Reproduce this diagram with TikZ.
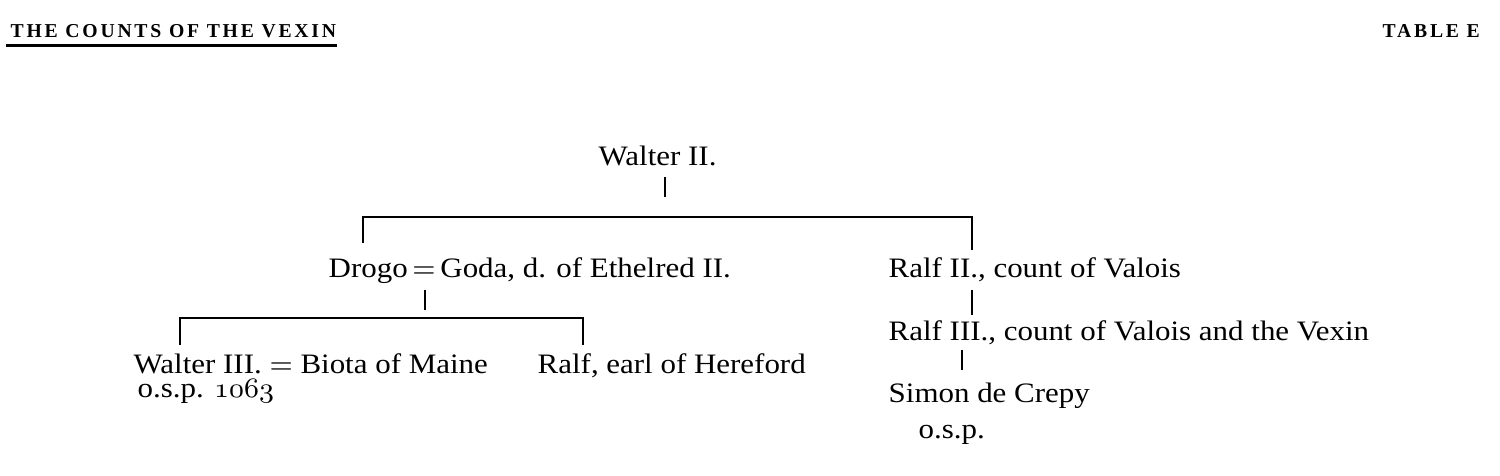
\documentclass[tikz,border=0pt]{standalone}
\usepackage{fontspec}
\setmainfont[FakeStretch=1.1]{Liberation Serif}
\newfontfamily\headfont[LetterSpace=14]{Liberation Serif}
\usepackage{tikz}
\usetikzlibrary{positioning}

\begin{document}
\begin{tikzpicture}[x=0.01cm,y=-0.01cm,
    font=\fontsize{8}{9}\selectfont,
    person/.style={anchor=base west,inner sep=0pt},
    heading/.style={anchor=base west,inner sep=0pt,font=\fontsize{5.6}{6}\headfont\bfseries},
    line/.style={line width=0.55pt}]

\useasboundingbox (0,0) rectangle (1500,475);

% Heading
\node[heading] (title) at (10,37) {THE COUNTS OF THE VEXIN};
\node[heading] (table) at (1382,37) {TABLE E};
\draw[line width=0.9pt] ([yshift=-2.3pt,xshift=-1pt]title.base west) -- ([yshift=-2.3pt]title.base east);

% First generation
\node[person] (walter2) at (598,165) {Walter II.};

% Second generation
\node[person] (drogo) at (328,277) {Drogo\,$=$\,Goda, d. of Ethelred II.};
\node[person] (ralf2) at (888,277) {Ralf II., count of Valois};

% Third generation
\node[person] (walter3) at (133,373) {Walter III. $=$ Biota of Maine};
\node[person] (osp1) at (137,397) {o.s.p. $\mathnormal{1063}$};
\node[person] (hereford) at (537,373) {Ralf, earl of Hereford};
\node[person] (ralf3) at (888,340) {Ralf III., count of Valois and the Vexin};

% Fourth generation
\node[person] (simon) at (888,402) {Simon de Crepy};
\node[person] (osp2) at (918,438) {o.s.p.};

% Lines of descent
\coordinate (bar1l) at (363,217);
\coordinate (bar1r) at (972,217);
\coordinate (bar2l) at (180,318);
\coordinate (bar2r) at (583,318);

\draw[line] (665,177) -- (665,197);
\draw[line] (bar1l) ++(0,26) |- (bar1r) -- ++(0,33);
\draw[line] (425,290) -- (425,310);
\draw[line] (bar2l) ++(0,27) |- (bar2r) -- ++(0,27);
\draw[line] (972,290) -- (972,315);
\draw[line] (962,350) -- (962,370);

\end{tikzpicture}
\end{document}
